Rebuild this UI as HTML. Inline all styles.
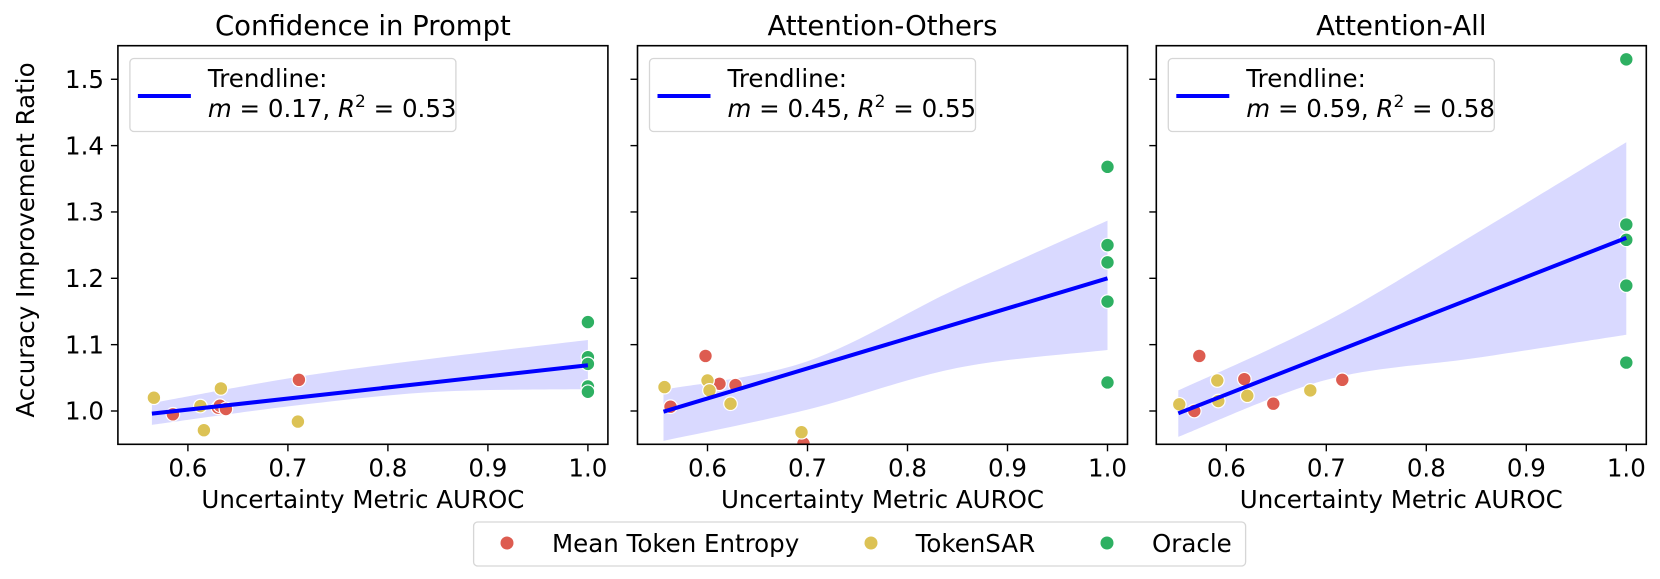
<!DOCTYPE html>
<html><head><meta charset="utf-8">
<style>
html,body{margin:0;padding:0;background:#fff;}
svg{display:block;font-family:"DejaVu Sans","Liberation Sans",sans-serif;}
</style></head>
<body>
<svg id="fig" width="1660" height="579" viewBox="0 0 1660 579" xmlns="http://www.w3.org/2000/svg"></svg>
<script>
// ---- data ----
const panelTitles = ["Confidence in Prompt", "Attention-Others", "Attention-All"];
const seriesNames = ["Mean Token Entropy", "TokenSAR", "Oracle"];
const seriesColors = ["#dd5c50", "#dcc255", "#2eb062"];
const xTicks = [0.6, 0.7, 0.8, 0.9, 1.0];
const xTickLabels = ["0.6", "0.7", "0.8", "0.9", "1.0"];
const yTicks = [1.0, 1.1, 1.2, 1.3, 1.4, 1.5];
const yTickLabels = ["1.0", "1.1", "1.2", "1.3", "1.4", "1.5"];
const slopeLabels = ["0.17", "0.45", "0.59"];
const r2Labels = ["0.53", "0.55", "0.58"];

// panel 1
const p1EntropyX = [0.585, 0.630, 0.632, 0.638, 0.711];
const p1EntropyY = [0.995, 1.005, 1.008, 1.003, 1.047];
const p1TokenSarX = [0.566, 0.6125, 0.616, 0.633, 0.710];
const p1TokenSarY = [1.020, 1.0075, 0.971, 1.034, 0.984];
const p1OracleX = [1.0, 1.0, 1.0, 1.0, 1.0];
const p1OracleY = [1.134, 1.081, 1.071, 1.037, 1.029];
const p1TrendX = [0.564, 1.0];
const p1TrendY = [0.996, 1.069];
const p1CiX = [0.564, 0.712, 0.85, 1.0];
const p1CiLo = [0.979, 1.009, 1.029, 1.033];
const p1CiHi = [1.012, 1.052, 1.080, 1.107];

// panel 2
const p2EntropyX = [0.563, 0.598, 0.612, 0.628, 0.696];
const p2EntropyY = [1.0065, 1.083, 1.041, 1.039, 0.951];
const p2TokenSarX = [0.557, 0.600, 0.602, 0.623, 0.694];
const p2TokenSarY = [1.036, 1.046, 1.031, 1.011, 0.968];
const p2OracleX = [1.0, 1.0, 1.0, 1.0, 1.0];
const p2OracleY = [1.368, 1.250, 1.224, 1.165, 1.043];
const p2TrendX = [0.556, 1.0];
const p2TrendY = [0.999, 1.200];
const p2CiX = [0.556, 0.70, 0.85, 1.0];
const p2CiLo = [0.955, 1.002, 1.065, 1.092];
const p2CiHi = [1.032, 1.075, 1.185, 1.287];

// panel 3
const p3EntropyX = [0.568, 0.573, 0.618, 0.647, 0.716];
const p3EntropyY = [1.000, 1.083, 1.048, 1.011, 1.047];
const p3TokenSarX = [0.553, 0.591, 0.592, 0.621, 0.684];
const p3TokenSarY = [1.010, 1.046, 1.015, 1.023, 1.031];
const p3OracleX = [1.0, 1.0, 1.0, 1.0, 1.0];
const p3OracleY = [1.530, 1.281, 1.258, 1.189, 1.073];
const p3TrendX = [0.552, 1.0];
const p3TrendY = [0.9965, 1.261];
const p3CiX = [0.552, 0.70, 0.85, 1.0];
const p3CiLo = [0.961, 1.047, 1.080, 1.115];
const p3CiHi = [1.031, 1.135, 1.268, 1.405];

const panels = [
  {ex:p1EntropyX, ey:p1EntropyY, tx:p1TokenSarX, ty:p1TokenSarY, ox:p1OracleX, oy:p1OracleY, lx:p1TrendX, ly:p1TrendY, cx:p1CiX, clo:p1CiLo, chi:p1CiHi},
  {ex:p2EntropyX, ey:p2EntropyY, tx:p2TokenSarX, ty:p2TokenSarY, ox:p2OracleX, oy:p2OracleY, lx:p2TrendX, ly:p2TrendY, cx:p2CiX, clo:p2CiLo, chi:p2CiHi},
  {ex:p3EntropyX, ey:p3EntropyY, tx:p3TokenSarX, ty:p3TokenSarY, ox:p3OracleX, oy:p3OracleY, lx:p3TrendX, ly:p3TrendY, cx:p3CiX, clo:p3CiLo, chi:p3CiHi}
];

// ---- layout ----
const NS = "http://www.w3.org/2000/svg";
const svg = document.getElementById("fig");
const panelLeft = [117.9, 637.5, 1156.3];
const panelW = 490, plotTop = 45.7, plotBottom = 444.3;
const xMin = 0.530, xMax = 1.020, yMin = 0.9498, yMax = 1.5506;
function el(tag, attrs, parent){ const e = document.createElementNS(NS, tag); for (const k in attrs) e.setAttribute(k, attrs[k]); (parent||svg).appendChild(e); return e; }
function yScale(v){ return plotBottom - (v - yMin) / (yMax - yMin) * (plotBottom - plotTop); }
function tspan(parent, text, attrs){ const t = el("tspan", attrs || {}, parent); t.textContent = text; return t; }
// smooth curve through points (Catmull-Rom -> cubic bezier), continuing an existing path
function smooth(pts, start){
  let d = (start ? "M" : "L") + pts[0][0] + "," + pts[0][1];
  for (let i = 0; i < pts.length - 1; i++) {
    const p0 = pts[Math.max(0, i-1)], p1 = pts[i], p2 = pts[i+1], p3 = pts[Math.min(pts.length-1, i+2)];
    const c1x = p1[0] + (p2[0]-p0[0])/6, c1y = p1[1] + (p2[1]-p0[1])/6;
    const c2x = p2[0] - (p3[0]-p1[0])/6, c2y = p2[1] - (p3[1]-p1[1])/6;
    d += "C" + c1x + "," + c1y + " " + c2x + "," + c2y + " " + p2[0] + "," + p2[1];
  }
  return d;
}

panels.forEach((p, i) => {
  const L = panelLeft[i];
  const xScale = v => L + (v - xMin) / (xMax - xMin) * panelW;
  const g = el("g", {});
  
  
  const clipId = "clip" + i;
  const cp = el("clipPath", {id: clipId}, g);
  el("rect", {x: L, y: plotTop, width: panelW, height: plotBottom - plotTop}, cp);
  const plot = el("g", {"clip-path": "url(#" + clipId + ")"}, g);

  // CI band
  const hi = p.cx.map((x, k) => [xScale(x), yScale(p.chi[k])]);
  const lo = p.cx.map((x, k) => [xScale(x), yScale(p.clo[k])]).reverse();
  const band = el("path", {d: smooth(hi, true) + smooth(lo, false) + "Z", fill: "#0000ff", "fill-opacity": "0.15"}, plot);
  
  

  // points
  const groups = [[p.ex, p.ey, 0], [p.tx, p.ty, 1], [p.ox, p.oy, 2]];
  groups.forEach(([xs, ys, s]) => {
    xs.forEach((x, k) => {
      const c = el("circle", {cx: xScale(x), cy: yScale(ys[k]), r: 6.8, fill: seriesColors[s], stroke: "#fff", "stroke-width": 1.2}, plot);
      
      
    });
  });

  // trendline
  const tl = el("line", {x1: xScale(p.lx[0]), y1: yScale(p.ly[0]), x2: xScale(p.lx[1]), y2: yScale(p.ly[1]), stroke: "#0000ff", "stroke-width": 4}, plot);
  
  

  // frame
  el("rect", {x: L, y: plotTop, width: panelW, height: plotBottom - plotTop, fill: "none", stroke: "#000", "stroke-width": 1.6}, g);

  // x ticks
  xTicks.forEach((t, k) => {
    const x = xScale(t);
    el("line", {x1: x, y1: plotBottom, x2: x, y2: plotBottom + 7, stroke: "#000", "stroke-width": 1.4}, g);
    const tx = el("text", {x: x, y: 476.5, "text-anchor": "middle", "font-size": 24.5}, g);
    tx.textContent = xTickLabels[k];
    
    
  });
  // y ticks
  yTicks.forEach((t, k) => {
    const y = yScale(t);
    el("line", {x1: L - 7, y1: y, x2: L, y2: y, stroke: "#000", "stroke-width": 1.4}, g);
    if (i === 0) {
      const ty = el("text", {x: 104, y: y + 8.7, "text-anchor": "end", "font-size": 24.5}, g);
      ty.textContent = yTickLabels[k];
      
      
    }
  });

  // x axis title
  const xt = el("text", {x: L + panelW/2, y: 508, "text-anchor": "middle", "font-size": 24.5}, g);
  xt.textContent = "Uncertainty Metric AUROC";
  
  

  // title
  const tt = el("text", {x: L + panelW/2, y: 35, "text-anchor": "middle", "font-size": 27.5}, g);
  tt.textContent = panelTitles[i];
  
  

  // trend legend
  const lg = el("g", {}, g);
  
  
  el("rect", {x: L + 12, y: 58.5, width: 326, height: 73, rx: 4, fill: "#fff", "fill-opacity": 0.8, stroke: "#d6d6d6", "stroke-width": 1.3}, lg);
  el("line", {x1: L + 20, y1: 96, x2: L + 73, y2: 96, stroke: "#0000ff", "stroke-width": 4}, lg);
  const t1 = el("text", {x: L + 90, y: 87, "font-size": 24.5}, lg);
  t1.textContent = "Trendline:";
  const t2 = el("text", {x: L + 90, y: 117, "font-size": 24.5}, lg);
  tspan(t2, "m", {"font-style": "italic"});
  tspan(t2, " = " + slopeLabels[i] + ", ");
  tspan(t2, "R", {"font-style": "italic"});
  tspan(t2, "2", {dy: "-10", "font-size": "17"});
  tspan(t2, " = " + r2Labels[i], {dy: "10"});
});

// y axis title
const yt = el("text", {x: 0, y: 0, "text-anchor": "middle", "font-size": 24.5, transform: "translate(34,240) rotate(-90)"});
yt.textContent = "Accuracy Improvement Ratio";



// series legend
const leg = el("g", {});


el("rect", {x: 473.6, y: 522, width: 772, height: 44, rx: 4, fill: "#fff", stroke: "#d6d6d6", "stroke-width": 1.3}, leg);
const legMarkX = [507, 871, 1107];
const legTextX = [552, 915.6, 1152];
seriesNames.forEach((n, s) => {
  const c = el("circle", {cx: legMarkX[s], cy: 543, r: 6.5, fill: seriesColors[s]}, leg);
  
  
  const t = el("text", {x: legTextX[s], y: 552, "font-size": 24.5}, leg);
  t.textContent = n;
  
  
});
</script>
</body></html>
